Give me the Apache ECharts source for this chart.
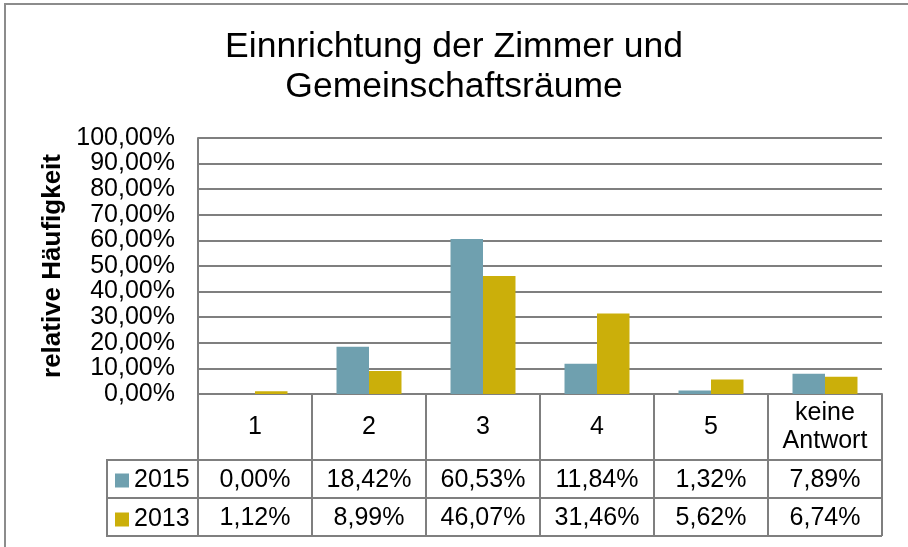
<!DOCTYPE html>
<html>
<head>
<meta charset="utf-8">
<script src="https://cdn.jsdelivr.net/npm/echarts@6/dist/echarts.min.js"></script>
<style>
  html, body { margin: 0; padding: 0; background: #fff; }
  #chart { width: 908px; height: 547px; }
</style>
</head>
<body>
<div id="chart"></div>
<script>
// Ratings 1–5 plus "no answer", share of respondents per survey year (percent)
const categories = ['1', '2', '3', '4', '5', 'keine\nAntwort'];
const values2015 = [0.00, 18.42, 60.53, 11.84, 1.32, 7.89];
const values2013 = [1.12, 8.99, 46.07, 31.46, 5.62, 6.74];
const seriesNames = ['2015', '2013'];
const yTicks = { min: 0, max: 100, interval: 10 };

const FONT = '"Liberation Sans", Arial, Helvetica, sans-serif';
const LINE = '#7f7f7f';
const COLORS = ['#6fa0af', '#cbaf0a'];

function pct(v) {
  return v.toFixed(2).replace('.', ',') + '%';
}

// One extra x axis per table row; its labels print that row's values
function tableRowAxis(values, offset) {
  return {
    type: 'category',
    data: categories,
    gridIndex: 0,
    position: 'bottom',
    offset: offset,
    axisLine: { show: true, lineStyle: { color: LINE, width: 2 } },
    axisTick: { show: true, interval: 0, length: 38, lineStyle: { color: LINE, width: 2 } },
    axisLabel: {
      interval: 0,
      margin: 20,
      verticalAlign: 'middle',
      fontFamily: FONT,
      fontSize: 25,
      color: '#000',
      formatter: function (val, idx) { return pct(values[idx]); }
    },
    splitLine: { show: false }
  };
}

const chart = echarts.init(document.getElementById('chart'), null, { renderer: 'canvas' });

chart.setOption({
  backgroundColor: '#fff',
  animation: false,
  title: {
    text: 'Einnrichtung der Zimmer und\nGemeinschaftsräume',
    left: 'center',
    top: 22,
    textStyle: {
      fontFamily: FONT,
      fontSize: 35.5,
      fontWeight: 'normal',
      color: '#000',
      lineHeight: 40
    }
  },
  legend: {
    orient: 'vertical',
    left: 115,
    top: 468,
    padding: 0,
    itemWidth: 14,
    itemHeight: 14,
    itemGap: 14,
    icon: 'rect',
    data: seriesNames,
    textStyle: { fontFamily: FONT, fontSize: 25, color: '#000', lineHeight: 24 }
  },
  grid: { left: 198, right: 26, top: 138, bottom: 153, containLabel: false },
  xAxis: [
    {
      type: 'category',
      data: categories,
      axisLine: { show: true, lineStyle: { color: LINE, width: 2 } },
      axisTick: { show: true, interval: 0, length: 66, lineStyle: { color: LINE, width: 2 } },
      axisLabel: {
        interval: 0,
        margin: 33,
        verticalAlign: 'middle',
        fontFamily: FONT,
        fontSize: 25,
        lineHeight: 28,
        color: '#000'
      },
      splitLine: { show: false }
    },
    tableRowAxis(values2015, 66),
    tableRowAxis(values2013, 104)
  ],
  yAxis: {
    type: 'value',
    min: yTicks.min,
    max: yTicks.max,
    interval: yTicks.interval,
    name: 'relative Häufigkeit',
    nameLocation: 'middle',
    nameGap: 127,
    nameRotate: 90,
    nameTextStyle: { fontFamily: FONT, fontSize: 26, fontWeight: 'bold', color: '#000' },
    axisLine: { show: true, lineStyle: { color: LINE, width: 2 } },
    axisTick: { show: false },
    axisLabel: {
      margin: 23,
      fontFamily: FONT,
      fontSize: 25,
      color: '#000',
      formatter: function (v) { return pct(v); }
    },
    splitLine: { show: true, lineStyle: { color: LINE, width: 2 } }
  },
  series: [
    {
      name: seriesNames[0],
      type: 'bar',
      data: values2015,
      itemStyle: { color: COLORS[0] },
      barGap: '0%',
      barCategoryGap: '43%'
    },
    {
      name: seriesNames[1],
      type: 'bar',
      data: values2013,
      itemStyle: { color: COLORS[1] },
      barGap: '0%',
      barCategoryGap: '43%'
    }
  ],
  graphic: [
    // outer chart frame
    {
      type: 'rect',
      shape: { x: 5, y: 4, width: 940, height: 600 },
      style: { fill: 'none', stroke: '#8c8c8c', lineWidth: 2 },
      silent: true
    },
    // legend column of the data table
    {
      type: 'polyline',
      shape: { points: [[198, 460], [107, 460], [107, 536], [198, 536]] },
      style: { fill: 'none', stroke: LINE, lineWidth: 2 },
      silent: true
    },
    {
      type: 'line',
      shape: { x1: 107, y1: 498, x2: 198, y2: 498 },
      style: { stroke: LINE, lineWidth: 2 },
      silent: true
    },
    {
      type: 'line',
      shape: { x1: 198, y1: 536, x2: 882, y2: 536 },
      style: { stroke: LINE, lineWidth: 2 },
      silent: true
    }
  ]
});
</script>
</body>
</html>
